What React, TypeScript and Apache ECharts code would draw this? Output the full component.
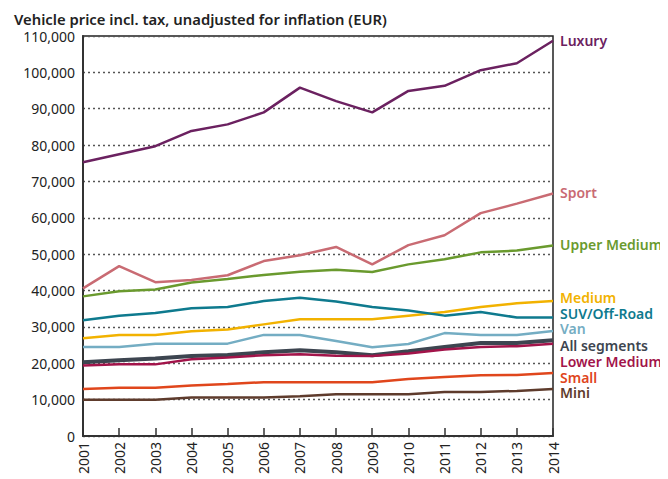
import React, { useEffect, useRef } from "react";
import * as echarts from "echarts";

const years = ["2001","2002","2003","2004","2005","2006","2007","2008","2009","2010","2011","2012","2013","2014"];

const luxury = [75300, 77500, 79700, 83900, 85700, 89000, 95800, 92100, 89000, 94900, 96300, 100600, 102500, 108700];
const sport = [40600, 46700, 42300, 42900, 44200, 48100, 49700, 52000, 47200, 52500, 55200, 61300, 63900, 66700];
const upperMedium = [38400, 39800, 40300, 42200, 43200, 44300, 45200, 45700, 45100, 47200, 48600, 50500, 51000, 52400];
const suv = [31800, 33100, 33800, 35100, 35500, 37100, 38000, 37000, 35500, 34500, 33100, 34100, 32600, 32600];
const medium = [26900, 27800, 27800, 28800, 29300, 30700, 32100, 32100, 32100, 33100, 34100, 35500, 36500, 37100];
const van = [24500, 24500, 25400, 25400, 25400, 27800, 27800, 26100, 24400, 25300, 28300, 27800, 27800, 28900];
const allSegments = [20300, 20800, 21300, 22000, 22300, 23000, 23600, 23000, 22200, 23300, 24500, 25600, 25600, 26300];
const lowerMedium = [19400, 19700, 19700, 21100, 21600, 22200, 22500, 22100, 22000, 22700, 23800, 24500, 24700, 25400];
const small = [12900, 13300, 13300, 13900, 14300, 14800, 14800, 14800, 14800, 15700, 16200, 16700, 16800, 17300];
const mini = [10000, 10000, 10000, 10600, 10600, 10600, 10900, 11500, 11500, 11500, 12100, 12100, 12400, 12900];

const seriesDefs = [
  { name: "Mini", data: mini, color: "#5e3b2c", width: 2.5, dy: 3 },
  { name: "Small", data: small, color: "#e0461c", width: 2.5, dy: 4 },
  { name: "All segments", data: allSegments, color: "#3d4550", width: 4, dy: 5 },
  { name: "Lower Medium", data: lowerMedium, color: "#a2144a", width: 2.5, dy: 18 },
  { name: "Van", data: van, color: "#74adc3", width: 2.5, dy: -2 },
  { name: "Medium", data: medium, color: "#f2b200", width: 2.5, dy: -4 },
  { name: "SUV/Off-Road", data: suv, color: "#0e7a8e", width: 2.5, dy: -4 },
  { name: "Upper Medium", data: upperMedium, color: "#6a9a2e", width: 2.5, dy: -1 },
  { name: "Sport", data: sport, color: "#c96b73", width: 2.5, dy: -1 },
  { name: "Luxury", data: luxury, color: "#6b2160", width: 2.5, dy: 0 },
];

const FONT = "'Noto Sans', sans-serif";

export default function App() {
  const ref = useRef<HTMLDivElement>(null);
  useEffect(() => {
    if (!ref.current) return;
    const chart = echarts.init(ref.current, null, { renderer: "svg" });
    chart.setOption({
      animation: false,
      title: {
        text: "Vehicle price incl. tax, unadjusted for inflation (EUR)",
        left: 9,
        top: 6,
        textStyle: { fontFamily: FONT, fontSize: 14.8, fontWeight: 600, color: "#222" },
      },
      grid: {
        left: 83,
        right: 115,
        top: 36,
        bottom: 43,
        show: true,
        borderColor: "#222",
        borderWidth: 1.5,
        backgroundColor: "transparent",
      },
      xAxis: {
        type: "category",
        data: years,
        boundaryGap: false,
        axisLine: { lineStyle: { color: "#333", width: 2 } },
        axisTick: { inside: true, length: 8, lineStyle: { color: "#333", width: 1.5 }, alignWithLabel: true },
        axisLabel: {
          rotate: 90,
          interval: 0,
          fontFamily: FONT,
          fontSize: 14,
          color: "#222",
          margin: 6,
        },
        splitLine: { show: false },
      },
      yAxis: {
        type: "value",
        min: 0,
        max: 110000,
        interval: 10000,
        axisLine: { show: true, lineStyle: { color: "#333", width: 2 } },
        axisTick: { show: false },
        axisLabel: {
          fontFamily: FONT,
          fontSize: 14,
          color: "#222",
          margin: 8,
          formatter: (v: number) => v.toLocaleString("en-US"),
        },
        splitLine: { lineStyle: { type: [2, 3], color: "#555", width: 1.3 } },
      },
      series: seriesDefs.map((s) => ({
        name: s.name,
        type: "line",
        data: s.data,
        symbol: "none",
        lineStyle: { color: s.color, width: s.width },
        itemStyle: { color: s.color },
        endLabel: {
          show: true,
          formatter: s.name,
          color: s.color,
          fontFamily: FONT,
          fontSize: 14,
          fontWeight: 600,
          distance: 7,
          offset: [0, s.dy],
        },
      })),
    });
    return () => chart.dispose();
  }, []);
  return <div ref={ref} style={{ width: 668, height: 479, marginLeft: -8, marginTop: -8 }} />;
}
